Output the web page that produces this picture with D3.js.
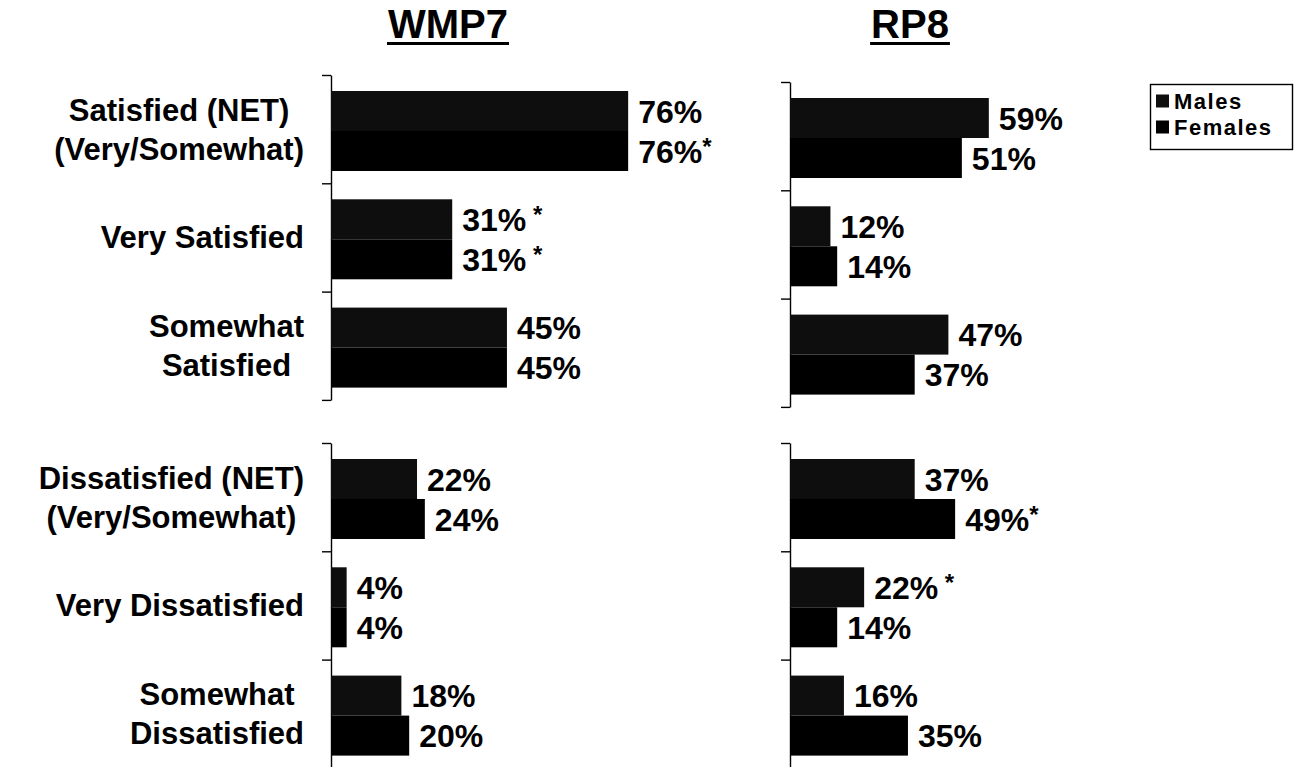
<!DOCTYPE html>
<html><head><meta charset="utf-8">
<script src="https://cdn.jsdelivr.net/npm/d3@7"></script>
<style>
html,body{margin:0;padding:0;background:#fff;}
svg text{font-family:"Liberation Sans",Arial,sans-serif;font-weight:bold;fill:#000;}
</style></head>
<body>
<svg id="chart" width="1296" height="767"></svg>
<script>
// ---- data ----
const satisfiedCats = ["Satisfied (NET)|(Very/Somewhat)", "Very Satisfied", "Somewhat|Satisfied"];
const dissatisfiedCats = ["Dissatisfied (NET)|(Very/Somewhat)", "Very Dissatisfied", "Somewhat|Dissatisfied"];
const categories = satisfiedCats.concat(dissatisfiedCats);
const series = ["Males", "Females"];
const panels = ["WMP7", "RP8"];
const wmp7Males   = [76, 31, 45, 22, 4, 18];
const wmp7Females = [76, 31, 45, 24, 4, 20];
const rp8Males    = [59, 12, 47, 37, 22, 16];
const rp8Females  = [51, 14, 37, 49, 14, 35];
const wmp7MalesMark   = ["", " *", "", "", "", ""];
const wmp7FemalesMark = ["*", " *", "", "", "", ""];
const rp8MalesMark    = ["", "", "", "", " *", ""];
const rp8FemalesMark  = ["", "", "", "*", "", ""];

// ---- layout ----
const svg = d3.select("#chart");
const colors = {Males: "#0e0e0e", Females: "#000"};
const panelCfg = [
  {name: panels[0], x0: 331, pxPer: 3.91, tops: [75, 443], titleX: 448,
   vals: {Males: wmp7Males, Females: wmp7Females}, marks: {Males: wmp7MalesMark, Females: wmp7FemalesMark}},
  {name: panels[1], x0: 790, pxPer: 3.37, tops: [82, 443], titleX: 910,
   vals: {Males: rp8Males, Females: rp8Females}, marks: {Males: rp8MalesMark, Females: rp8FemalesMark}}
];
const bandH = 108.3;

panelCfg.forEach((p, pi) => {
  const x = d3.scaleLinear().domain([0, 100]).range([p.x0, p.x0 + 100 * p.pxPer]);
  // title
  const t = svg.append("text").attr("x", p.titleX).attr("y", 38)
    .attr("text-anchor", "middle").style("font-size", "40px").text(p.name);
  const bb = t.node().getBBox();
  svg.append("rect").attr("x", bb.x - 1).attr("y", 42).attr("width", bb.width + 2).attr("height", 3).attr("fill", "#000");

  [satisfiedCats, dissatisfiedCats].forEach((cats, gi) => {
    const top = p.tops[gi];
    const y = d3.scaleBand().domain(cats).range([top, top + bandH * cats.length]);
    const ySub = d3.scaleBand().domain(series).range([16, 96]);
    // axis: bracket with ticks at band boundaries
    const yl = d3.scaleLinear().domain([0, cats.length]).range([top, top + bandH * cats.length]);
    const ax = svg.append("g").attr("transform", `translate(${p.x0},0)`)
      .call(d3.axisLeft(yl).tickValues(d3.range(cats.length + 1)).tickFormat("").tickSize(9).tickSizeOuter(0));
    ax.select(".domain").attr("stroke", "#000").attr("stroke-width", 1.4);
    ax.selectAll(".tick line").attr("stroke", "#000").attr("stroke-width", 1.4);

    cats.forEach((c, ci) => {
      const idx = gi * 3 + ci;
      series.forEach(s => {
        const v = p.vals[s][idx];
        const by = y(c) + ySub(s);
        svg.append("rect").attr("x", x(0)).attr("y", by)
          .attr("width", x(v) - x(0)).attr("height", ySub.bandwidth()).attr("fill", colors[s]);
        const lab = svg.append("text").attr("x", x(v) + 10).attr("y", by + ySub.bandwidth() / 2 + 11.5)
          .style("font-size", "32px").text(v + "%");
        const m = p.marks[s][idx];
        if (m) {
          lab.append("tspan").attr("dy", -8).style("font-size", "24px").attr("xml:space", "preserve").text(m);
        }
      });
      // category label (only left panel)
      if (pi === 0) {
        const lines = c.split("|");
        const g = svg.append("g");
        const cy = y(c) + bandH / 2;
        const lh = 39;
        const texts = lines.map((ln, li) => g.append("text")
          .attr("y", cy + (li - (lines.length - 1) / 2) * lh + 11)
          .attr("text-anchor", "middle").style("font-size", "31px").text(ln));
        const maxW = d3.max(texts, tx => tx.node().getComputedTextLength());
        texts.forEach(tx => tx.attr("x", 304 - maxW / 2));
      }
    });
  });
});

// ---- legend ----
const lg = svg.append("g");
lg.append("rect").attr("x", 1150.5).attr("y", 84.5).attr("width", 142).attr("height", 65)
  .attr("fill", "#fff").attr("stroke", "#000").attr("stroke-width", 1.4);
series.forEach((s, i) => {
  const ly = 101 + i * 26;
  lg.append("rect").attr("x", 1156).attr("y", ly - 6.5).attr("width", 13).attr("height", 13).attr("fill", colors[s]);
  lg.append("text").attr("x", 1174).attr("y", ly + 8).style("font-size", "22px")
    .style("letter-spacing", "1.5px").text(s);
});
</script>
</body></html>
